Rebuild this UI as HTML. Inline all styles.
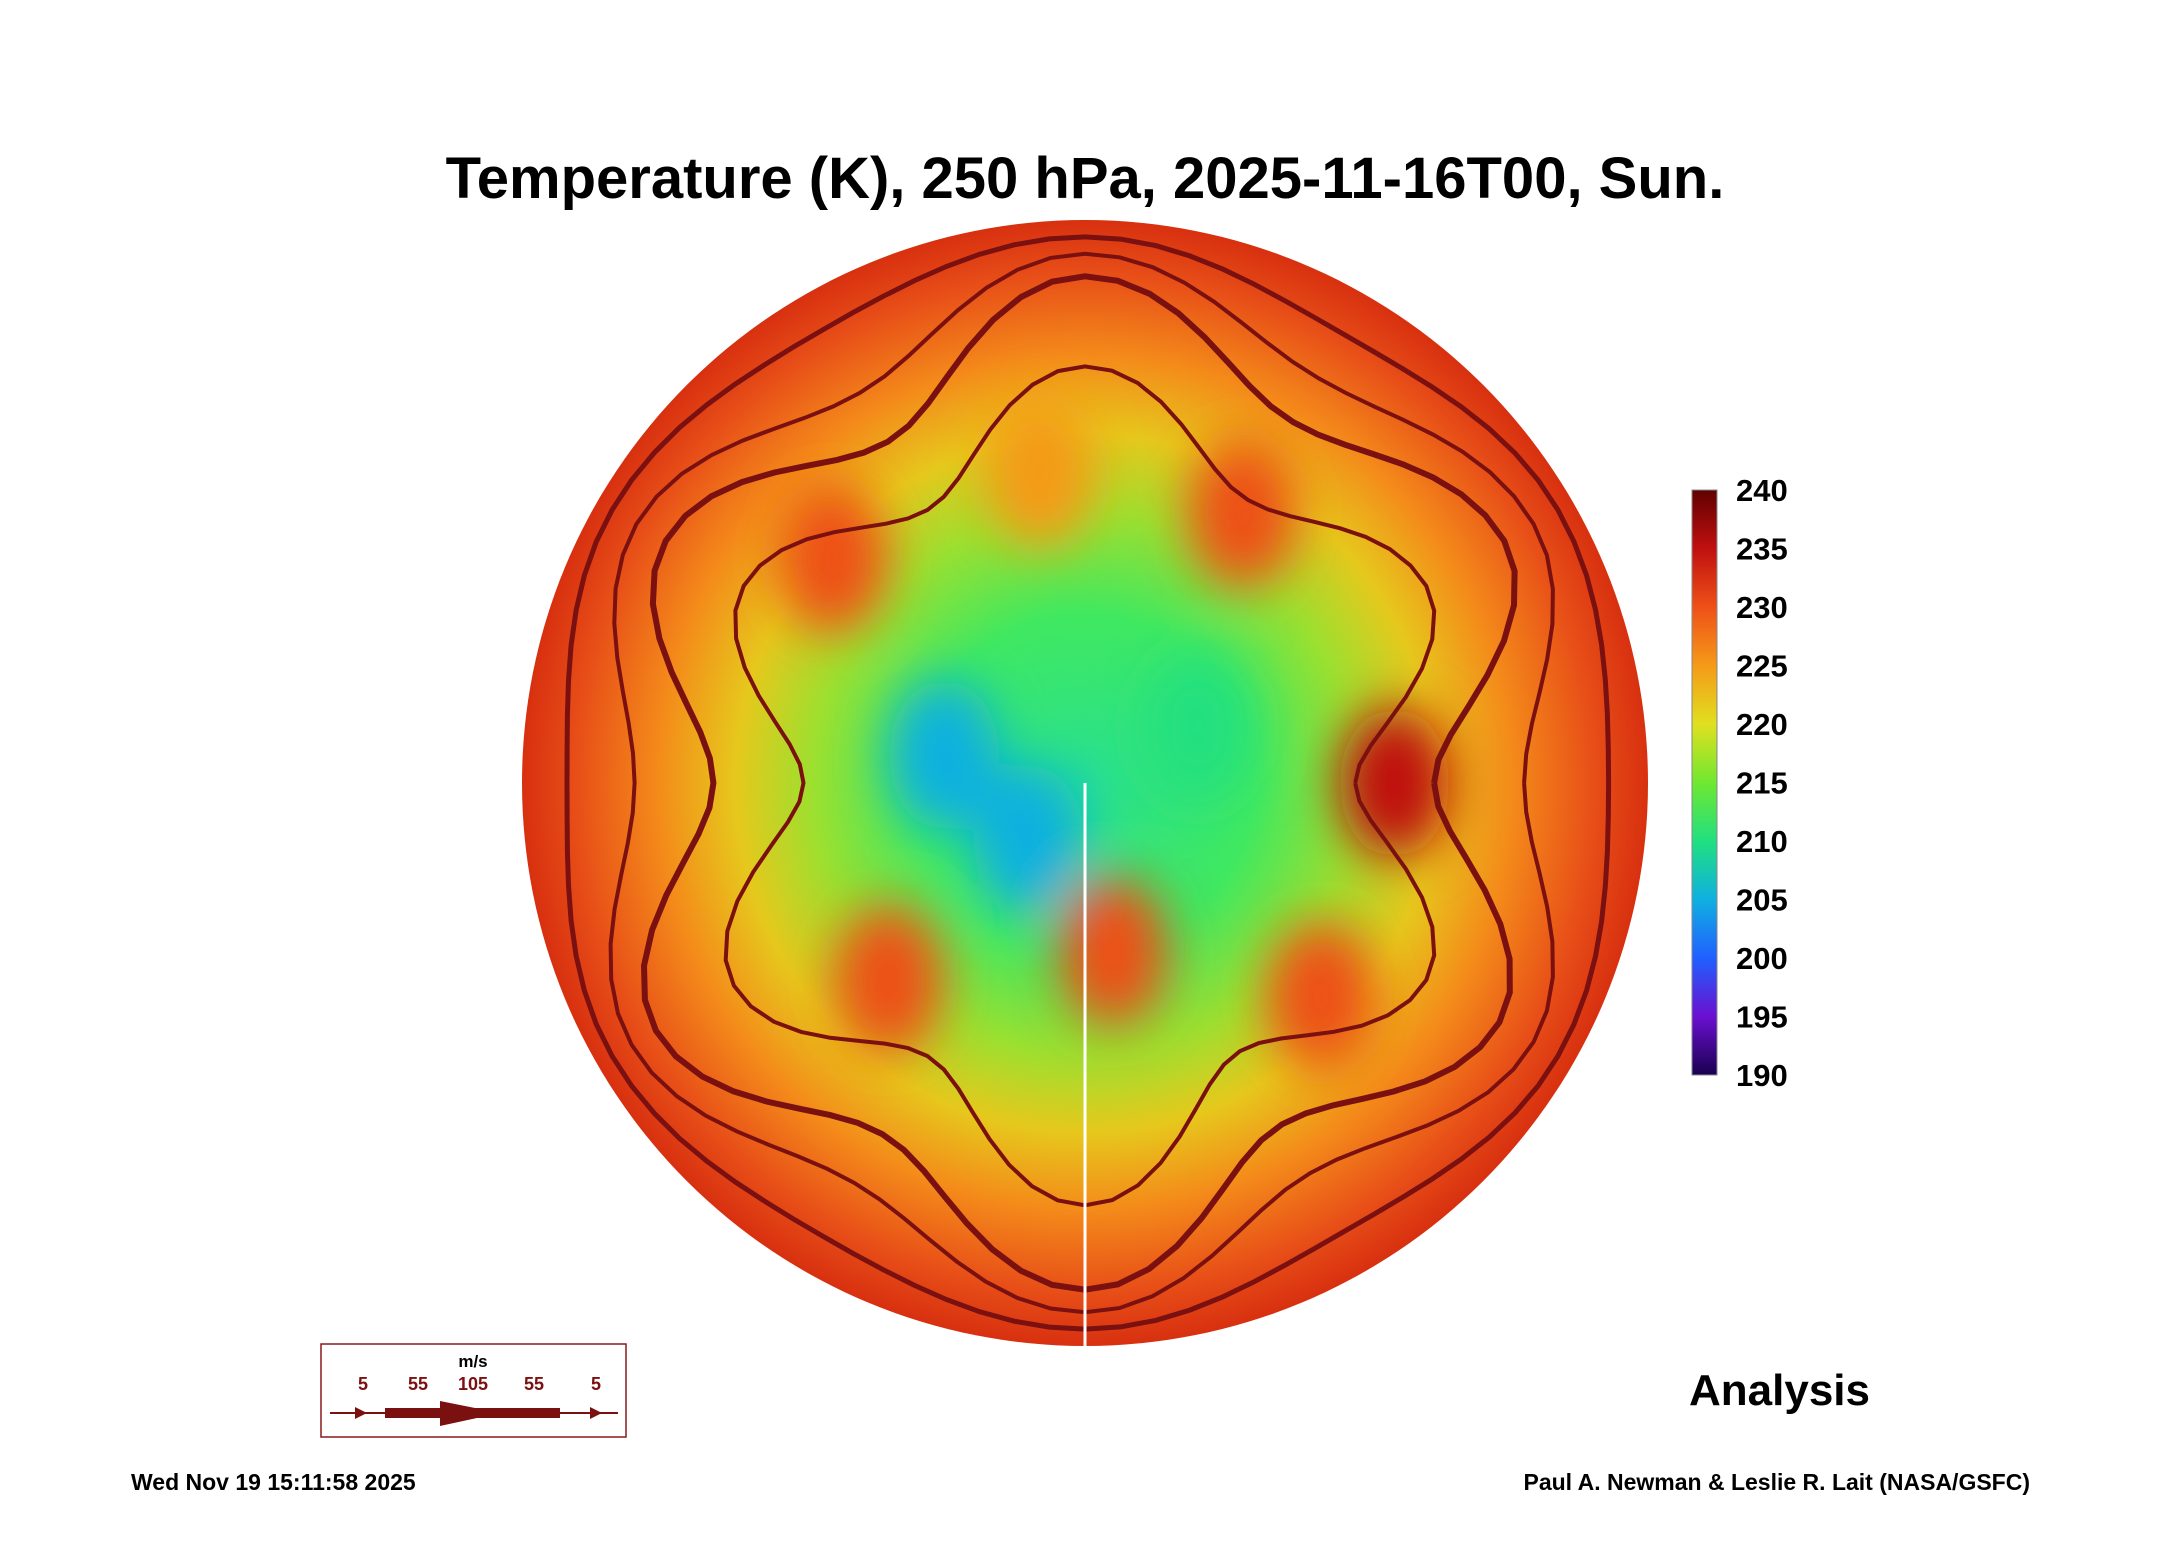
<!DOCTYPE html>
<html><head><meta charset="utf-8">
<style>
body{margin:0;background:#fff;}
svg{display:block;font-family:"Liberation Sans",sans-serif;}
</style></head>
<body>
<svg id="chart" width="2165" height="1561" viewBox="0 0 2165 1561">
<defs>
<radialGradient id="diskGrad" cx="0.5" cy="0.5" r="0.5">
<stop offset="0" stop-color="#28e090"/>
<stop offset="0.3" stop-color="#40e860"/>
<stop offset="0.48" stop-color="#9be030"/>
<stop offset="0.62" stop-color="#e6c81c"/>
<stop offset="0.76" stop-color="#f48a1a"/>
<stop offset="0.9" stop-color="#e85018"/>
<stop offset="1" stop-color="#d83010"/>
</radialGradient>
<linearGradient id="cbGrad" x1="0" y1="1" x2="0" y2="0">
<stop offset="0" stop-color="#1a0050"/>
<stop offset="0.1" stop-color="#6a10d0"/>
<stop offset="0.2" stop-color="#2060ff"/>
<stop offset="0.3" stop-color="#10b0e0"/>
<stop offset="0.4" stop-color="#20e080"/>
<stop offset="0.5" stop-color="#70e830"/>
<stop offset="0.6" stop-color="#e0e020"/>
<stop offset="0.7" stop-color="#f59a18"/>
<stop offset="0.8" stop-color="#ee5018"/>
<stop offset="0.9" stop-color="#c01010"/>
<stop offset="1" stop-color="#600000"/>
</linearGradient>
<clipPath id="diskClip"><circle cx="1085" cy="783" r="563"/></clipPath>
<filter id="blur"><feGaussianBlur stdDeviation="25"/></filter>
</defs>
<text x="1085" y="198" text-anchor="middle" font-size="58" font-weight="bold">Temperature (K), 250 hPa, 2025-11-16T00, Sun.</text>
<circle cx="1085" cy="783" r="563" fill="url(#diskGrad)"/>
<g id="blobs" clip-path="url(#diskClip)" filter="url(#blur)"></g>
<g id="streams" clip-path="url(#diskClip)" fill="none"></g>
<g id="colorbar"></g>
<text x="1689" y="1405" font-size="44" font-weight="bold">Analysis</text>
<g transform="translate(0,-7)">
<rect x="321" y="1351" width="305" height="93" fill="#fff" stroke="#8b1a1a" stroke-width="1.5"/>
<text x="473" y="1374" font-size="17" font-weight="bold" text-anchor="middle" fill="#000">m/s</text>
<g font-size="18" font-weight="bold" fill="#7a1010" text-anchor="middle">
<text x="363" y="1397">5</text><text x="418" y="1397">55</text><text x="473" y="1397">105</text><text x="534" y="1397">55</text><text x="596" y="1397">5</text></g>
<line x1="330" y1="1420" x2="618" y2="1420" stroke="#7a1010" stroke-width="2"/>
<rect x="385" y="1415" width="175" height="10" fill="#7a1010"/>
<polygon points="440,1408 500,1420 440,1433" fill="#7a1010"/>
<polygon points="355,1414 367,1420 355,1426" fill="#7a1010"/>
<polygon points="590,1414 602,1420 590,1426" fill="#7a1010"/>
</g>
<text x="131" y="1490" font-size="23" font-weight="bold">Wed Nov 19 15:11:58 2025</text>
<text x="2030" y="1490" font-size="23" font-weight="bold" text-anchor="end">Paul A. Newman &amp; Leslie R. Lait (NASA/GSFC)</text>
</svg>
<script>
const cbTicks=[190,195,200,205,210,215,220,225,230,235,240];
const blobX=[-0.45,-0.08,0.28,0.55,0.05,-0.35,-0.25,0.42,0.2,-0.1];
const blobY=[-0.4,-0.55,-0.48,0.0,0.3,0.35,-0.05,0.38,-0.1,0.1];
const blobT=[228,226,231,236,230,232,206,230,208,204];
const ringAngles=[0,30,60,90,120,150,180,210,240,270,300,330];
const ringR1=[0.62,0.85,0.7,0.9,0.72,0.88,0.66,0.86,0.7,0.9,0.74,0.86];
const ringR2=[0.48,0.7,0.55,0.75,0.56,0.72,0.5,0.7,0.56,0.74,0.58,0.7];
const ringR3=[0.93,0.97,0.92,0.97,0.93,0.97,0.92,0.97,0.93,0.97,0.92,0.97];
const ringR4=[0.78,0.92,0.8,0.94,0.82,0.93,0.8,0.92,0.8,0.94,0.83,0.92];
const NS='http://www.w3.org/2000/svg';
const cx=1085,cy=783,R=563;
const cbTop=490,cbBot=1075,cbX=1692,cbW=25;
function yCb(v){return cbBot-(v-190)/50*(cbBot-cbTop);}
function colorT(v){const c=['#1a0050','#6a10d0','#2060ff','#10b0e0','#20e080','#70e830','#e0e020','#f59a18','#ee5018','#c01010','#600000'];let i=Math.round((v-190)/5);return c[Math.max(0,Math.min(10,i))];}
const cb=document.getElementById('colorbar');
const rect=document.createElementNS(NS,'rect');
rect.setAttribute('x',cbX);rect.setAttribute('y',cbTop);rect.setAttribute('width',cbW);rect.setAttribute('height',cbBot-cbTop);
rect.setAttribute('fill','url(#cbGrad)');rect.setAttribute('stroke','#888');


cb.appendChild(rect);
cbTicks.forEach(t=>{const tx=document.createElementNS(NS,'text');
tx.setAttribute('x',cbX+44);tx.setAttribute('y',yCb(t)+11);tx.setAttribute('font-size','31');tx.setAttribute('font-weight','bold');
tx.textContent=t;


cb.appendChild(tx);});
const bl=document.getElementById('blobs');
blobX.forEach((bx,i)=>{const c=document.createElementNS(NS,'ellipse');
c.setAttribute('cx',cx+bx*R);c.setAttribute('cy',cy+blobY[i]*R);c.setAttribute('rx',55);c.setAttribute('ry',75);
c.setAttribute('fill',colorT(blobT[i]));


bl.appendChild(c);});
const st=document.getElementById('streams');
function ring(rs,w){let pts=[];const n=ringAngles.length;
for(let k=0;k<=n*8;k++){const f=k/8;const i=Math.floor(f)%n,j=(i+1)%n,u=f-Math.floor(f);
const r=rs[i]+(rs[j]-rs[i])*(1-Math.cos(u*Math.PI))/2;const a=(ringAngles[i]+30*u)*Math.PI/180;
pts.push((cx+r*R*Math.cos(a)).toFixed(1)+','+(cy+r*R*Math.sin(a)).toFixed(1));}
const p=document.createElementNS(NS,'polyline');p.setAttribute('points',pts.join(' '));
p.setAttribute('stroke','#7a1010');p.setAttribute('stroke-width',w);


st.appendChild(p);}
ring(ringR1,6);ring(ringR2,4);ring(ringR3,5);ring(ringR4,4);
const vline=document.createElementNS(NS,'line');
vline.setAttribute('x1',cx);vline.setAttribute('y1',cy);vline.setAttribute('x2',cx);vline.setAttribute('y2',cy+R);
vline.setAttribute('stroke','#fff');vline.setAttribute('stroke-width','3');


st.appendChild(vline);
</script>
</body></html>
